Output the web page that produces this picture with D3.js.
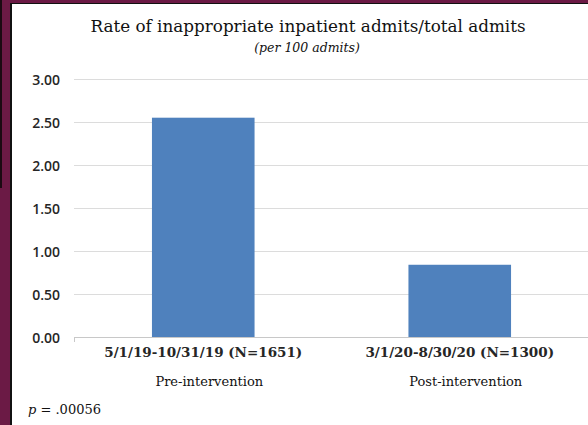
<!DOCTYPE html>
<html>
<head>
<meta charset="utf-8">
<script src="https://cdn.jsdelivr.net/npm/d3@7"></script>
<style>
  body { margin: 0; background: #fff; }
  svg { display: block; }
</style>
</head>
<body>
<div id="chart"></div>
<script>
// chart size
var width = 588;
var height = 425;

// data
var periods = ["5/1/19-10/31/19 (N=1651)", "3/1/20-8/30/20 (N=1300)"];
var phases = ["Pre-intervention", "Post-intervention"];
var rates = [2.55, 0.84];
var yTicks = [0, 0.5, 1, 1.5, 2, 2.5, 3];

var serif = "'DejaVu Serif', serif";

var svg = d3.select("#chart").append("svg")
  .attr("width", width)
  .attr("height", height);

// frame: maroon slide edge on left and top
svg.append("rect").attr("x", 0).attr("y", 0).attr("width", width).attr("height", height).attr("fill", "#fff");
svg.append("rect").attr("x", 0).attr("y", 0).attr("width", 10).attr("height", height).attr("fill", "#6b1a45");
svg.append("rect").attr("x", 0).attr("y", 0).attr("width", width).attr("height", 3).attr("fill", "#6b1a45");
svg.append("rect").attr("x", 10).attr("y", 3).attr("width", 2).attr("height", height).attr("fill", "#111");
svg.append("rect").attr("x", 10).attr("y", 3).attr("width", width).attr("height", 1).attr("fill", "#111");
svg.append("rect").attr("x", 0).attr("y", 0).attr("width", 2).attr("height", 188).attr("fill", "#1a0a12");

// scales
var x = d3.scaleBand()
  .domain(periods)
  .range([75, 588])
  .paddingInner(0.6)
  .paddingOuter(0.3);

var y = d3.scaleLinear()
  .domain([0, 3])
  .range([337, 79]);

// gridlines
svg.append("g")
  .selectAll("line")
  .data(yTicks)
  .enter()
  .append("line")
  .attr("x1", 74)
  .attr("x2", width)
  .attr("y1", function(d) { return Math.round(y(d)) + 0.5; })
  .attr("y2", function(d) { return Math.round(y(d)) + 0.5; })
  .attr("stroke", function(d) { return d === 0 ? "#c8c8c8" : "#dcdcdc"; })
  .attr("stroke-width", 1);

// small tick at the left end of baseline
svg.append("line")
  .attr("x1", 74.5).attr("x2", 74.5)
  .attr("y1", 337).attr("y2", 342)
  .attr("stroke", "#c8c8c8");

// y axis labels
var yAxis = d3.axisLeft(y)
  .tickValues(yTicks)
  .tickFormat(d3.format(".2f"))
  .tickSize(0)
  .tickPadding(0);

var gy = svg.append("g")
  .attr("transform", "translate(60,1)")
  .call(yAxis);
gy.select(".domain").remove();
gy.selectAll("text")
  .attr("font-family", "'Open Sans', sans-serif")
  .attr("font-size", 14)
  .attr("font-weight", 600)
  .attr("fill", "#262626");

// bars
svg.append("g")
  .selectAll("rect")
  .data(rates)
  .enter()
  .append("rect")
  .attr("x", function(d, i) { return x(periods[i]); })
  .attr("y", function(d) { return y(d); })
  .attr("width", x.bandwidth())
  .attr("height", function(d) { return y(0) - y(d); })
  .attr("fill", "#4f81bd");

// x axis labels
var xAxis = d3.axisBottom(x).tickSize(0).tickPadding(0);
var gx = svg.append("g")
  .attr("transform", "translate(0,347)")
  .call(xAxis);
gx.select(".domain").remove();
gx.selectAll("text")
  .attr("font-family", serif)
  .attr("font-size", 13.5)
  .attr("font-weight", "bold")
  .attr("fill", "#262626");

svg.append("g")
  .selectAll("text")
  .data(phases)
  .enter()
  .append("text")
  .attr("x", function(d, i) { return x(periods[i]) + x.bandwidth() / 2 + 6; })
  .attr("y", 386)
  .attr("text-anchor", "middle")
  .attr("font-family", serif)
  .attr("font-size", 13)
  .attr("fill", "#111")
  .text(function(d) { return d; });

// titles
svg.append("text")
  .attr("x", 308)
  .attr("y", 32)
  .attr("text-anchor", "middle")
  .attr("font-family", serif)
  .attr("font-size", 16.8)
  .attr("fill", "#111")
  .text("Rate of inappropriate inpatient admits/total admits");

svg.append("text")
  .attr("x", 307)
  .attr("y", 52)
  .attr("text-anchor", "middle")
  .attr("font-family", serif)
  .attr("font-size", 12.5)
  .attr("font-style", "italic")
  .attr("fill", "#111")
  .text("(per 100 admits)");

// p value note
var note = svg.append("text")
  .attr("x", 28)
  .attr("y", 414)
  .attr("font-family", serif)
  .attr("font-size", 13)
  .attr("fill", "#111");
note.append("tspan").attr("font-style", "italic").text("p");
note.append("tspan").text(" = .00056");
</script>
</body>
</html>
